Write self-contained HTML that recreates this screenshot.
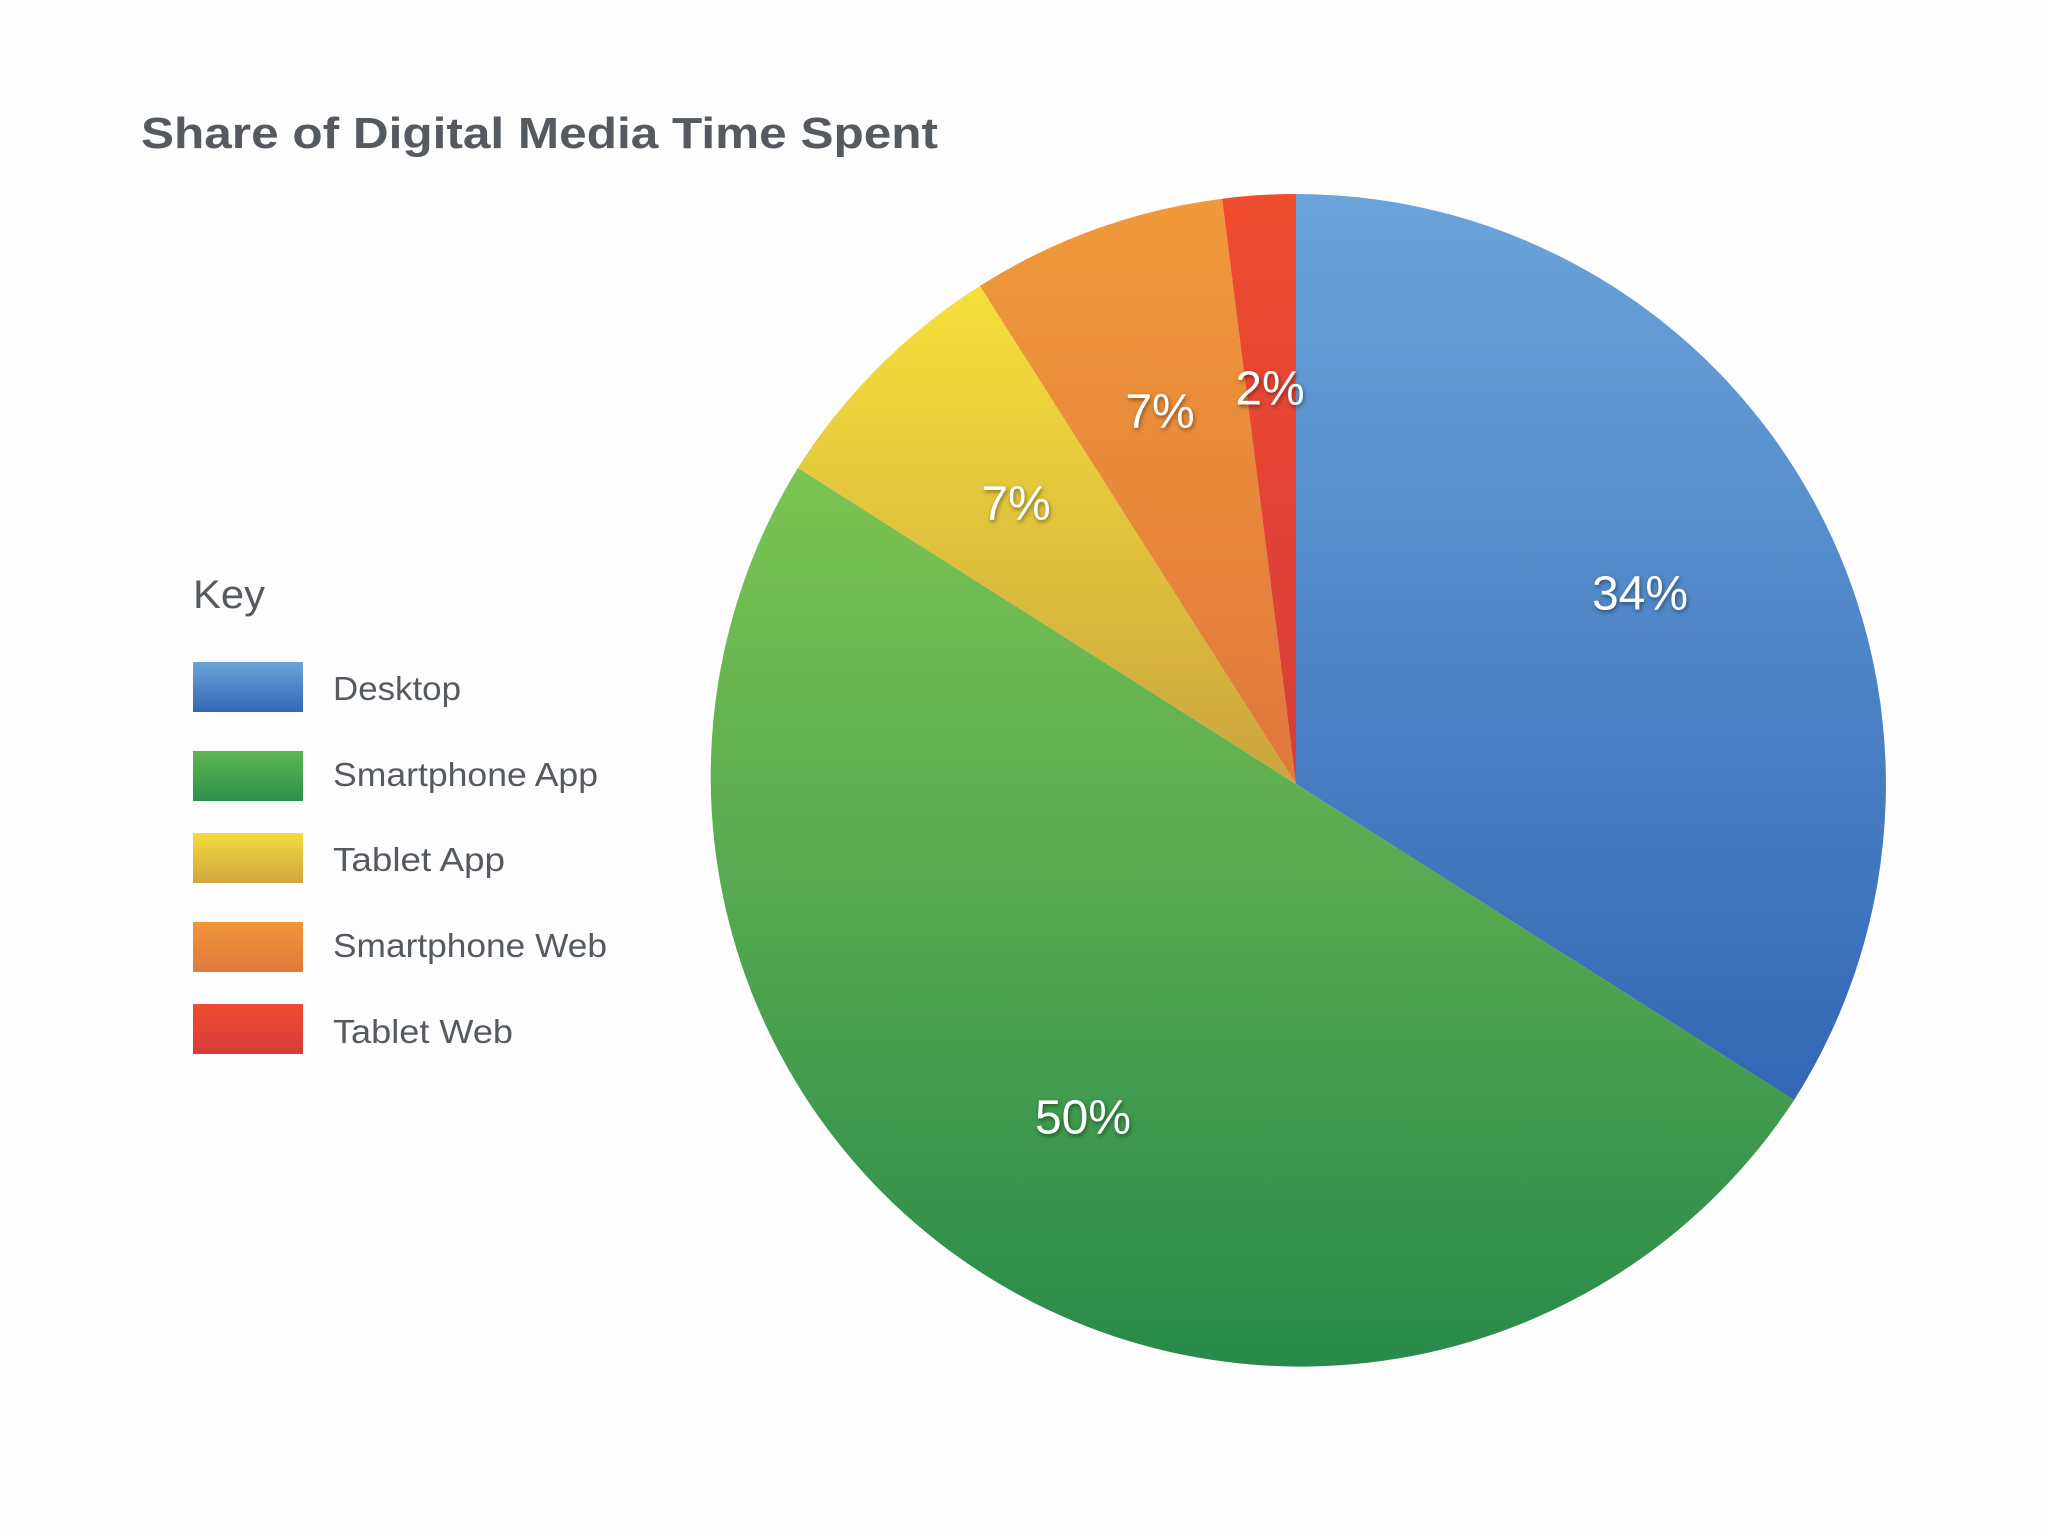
<!DOCTYPE html>
<html><head><meta charset="utf-8"><style>
html,body{margin:0;padding:0;background:#fdfdfd;}
svg{display:block;}
</style></head><body>
<svg width="2048" height="1536" viewBox="0 0 2048 1536" xmlns="http://www.w3.org/2000/svg" font-family="Liberation Sans, sans-serif">
<defs>
<linearGradient id="gb" gradientUnits="userSpaceOnUse" x1="0" y1="194" x2="0" y2="1100"><stop offset="0" stop-color="#6aa4da"/><stop offset="1" stop-color="#3467b4"/></linearGradient>
<linearGradient id="gg" gradientUnits="userSpaceOnUse" x1="0" y1="468" x2="0" y2="1374"><stop offset="0" stop-color="#7cc453"/><stop offset="1" stop-color="#28894b"/></linearGradient>
<linearGradient id="gy" gradientUnits="userSpaceOnUse" x1="0" y1="286" x2="0" y2="784"><stop offset="0" stop-color="#f6e03a"/><stop offset="1" stop-color="#caa43e"/></linearGradient>
<linearGradient id="go" gradientUnits="userSpaceOnUse" x1="0" y1="199" x2="0" y2="784"><stop offset="0" stop-color="#f0993a"/><stop offset="1" stop-color="#e0783c"/></linearGradient>
<linearGradient id="gr" gradientUnits="userSpaceOnUse" x1="0" y1="194" x2="0" y2="784"><stop offset="0" stop-color="#ef4c30"/><stop offset="1" stop-color="#d63c3a"/></linearGradient>
<linearGradient id="lb" x1="0" y1="0" x2="0" y2="1"><stop offset="0" stop-color="#6aa4da"/><stop offset="1" stop-color="#3467b4"/></linearGradient>
<linearGradient id="lg" x1="0" y1="0" x2="0" y2="1"><stop offset="0" stop-color="#5eb553"/><stop offset="1" stop-color="#2e914b"/></linearGradient>
<linearGradient id="ly" x1="0" y1="0" x2="0" y2="1"><stop offset="0" stop-color="#f3dc3c"/><stop offset="1" stop-color="#cfa640"/></linearGradient>
<linearGradient id="lo" x1="0" y1="0" x2="0" y2="1"><stop offset="0" stop-color="#f0953a"/><stop offset="1" stop-color="#e07a3c"/></linearGradient>
<linearGradient id="lr" x1="0" y1="0" x2="0" y2="1"><stop offset="0" stop-color="#ee4c30"/><stop offset="1" stop-color="#d63c3a"/></linearGradient>
</defs>
<rect width="2048" height="1536" fill="#fdfdfd"/>
<text x="141" y="148" font-size="44" font-weight="bold" fill="#555a61" textLength="797" lengthAdjust="spacingAndGlyphs">Share of Digital Media Time Spent</text>
<text x="193" y="608" font-size="40" fill="#555a61" textLength="72" lengthAdjust="spacingAndGlyphs">Key</text>
<rect x="193" y="662" width="110" height="50" fill="url(#lb)"/>
<rect x="193" y="751" width="110" height="50" fill="url(#lg)"/>
<rect x="193" y="833" width="110" height="50" fill="url(#ly)"/>
<rect x="193" y="922" width="110" height="50" fill="url(#lo)"/>
<rect x="193" y="1004" width="110" height="50" fill="url(#lr)"/>
<g font-size="33" fill="#555a61">
<text x="333" y="700" textLength="128" lengthAdjust="spacingAndGlyphs">Desktop</text>
<text x="333" y="786" textLength="265" lengthAdjust="spacingAndGlyphs">Smartphone App</text>
<text x="333" y="871" textLength="172" lengthAdjust="spacingAndGlyphs">Tablet App</text>
<text x="333" y="957" textLength="274" lengthAdjust="spacingAndGlyphs">Smartphone Web</text>
<text x="333" y="1043" textLength="180" lengthAdjust="spacingAndGlyphs">Tablet Web</text>
</g>
<path d="M1296 784 L1296 194 A590 590 0 0 1 1794.1 1100.1 Z" fill="url(#gb)"/>
<path d="M1296 784 L1794.1 1100.1 A590 590 0 0 1 797.9 467.9 Z" fill="url(#gg)"/>
<path d="M1296 784 L797.9 467.9 A590 590 0 0 1 979.9 285.9 Z" fill="url(#gy)"/>
<path d="M1296 784 L979.9 285.9 A590 590 0 0 1 1222.1 198.7 Z" fill="url(#go)"/>
<path d="M1296 784 L1222.1 198.7 A590 590 0 0 1 1296 194 Z" fill="url(#gr)"/>
<g font-size="48" fill="#ffffff" text-anchor="middle" dominant-baseline="middle" style="filter:drop-shadow(1px 2px 2px rgba(0,0,0,0.45))">
<text x="1640" y="597">34%</text>
<text x="1083" y="1121">50%</text>
<text x="1016" y="507">7%</text>
<text x="1160" y="415">7%</text>
<text x="1270" y="392">2%</text>
</g>
</svg>
</body></html>
